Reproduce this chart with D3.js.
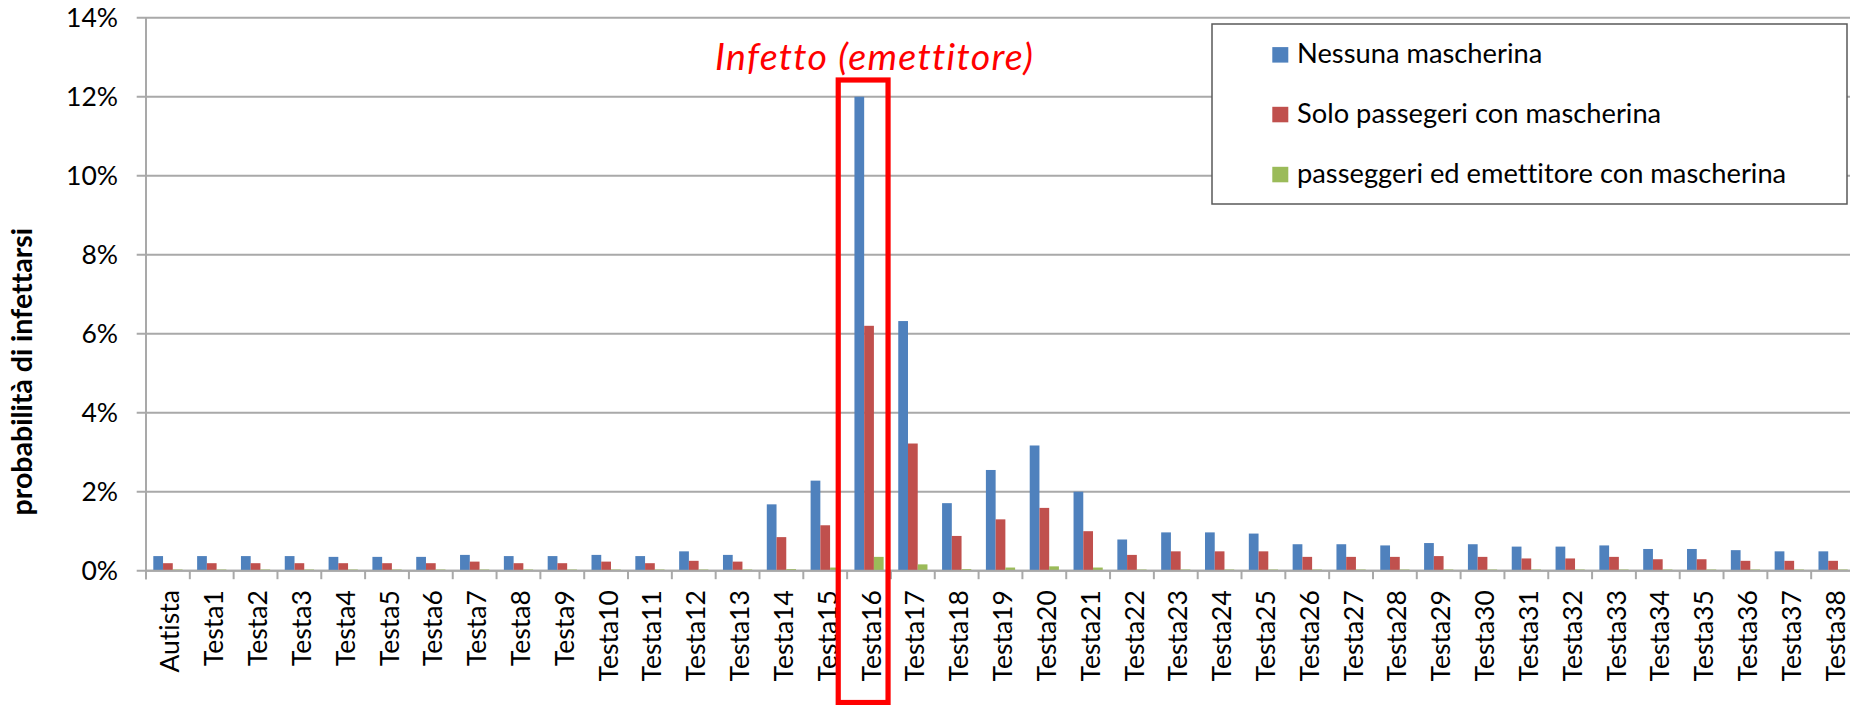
<!DOCTYPE html>
<html>
<head>
<meta charset="utf-8">
<script src="https://cdn.jsdelivr.net/npm/d3@7"></script>
<style>
  html, body { margin: 0; padding: 0; background: #ffffff; }
  svg { display: block; font-family: Lato, "Noto Sans", sans-serif; font-variant-ligatures: none; font-feature-settings: "liga" 0, "clig" 0; }
</style>
</head>
<body>
<svg id="chart" width="1850" height="705"></svg>
<script>
// ---------- DATA ----------
const categories = ["Autista", "Testa1", "Testa2", "Testa3", "Testa4", "Testa5", "Testa6", "Testa7", "Testa8", "Testa9",
  "Testa10", "Testa11", "Testa12", "Testa13", "Testa14", "Testa15", "Testa16", "Testa17", "Testa18", "Testa19",
  "Testa20", "Testa21", "Testa22", "Testa23", "Testa24", "Testa25", "Testa26", "Testa27", "Testa28", "Testa29",
  "Testa30", "Testa31", "Testa32", "Testa33", "Testa34", "Testa35", "Testa36", "Testa37", "Testa38"];

const seriesNames = ["Nessuna mascherina", "Solo passegeri con mascherina", "passeggeri ed emettitore con mascherina"];

// values in percent
const nessunaMascherina = [0.37, 0.37, 0.37, 0.37, 0.35, 0.35, 0.35, 0.40, 0.37, 0.37,
  0.40, 0.37, 0.49, 0.40, 1.68, 2.28, 12.0, 6.32, 1.71, 2.55,
  3.17, 2.00, 0.79, 0.97, 0.97, 0.94, 0.67, 0.67, 0.64, 0.70,
  0.67, 0.61, 0.61, 0.64, 0.55, 0.55, 0.52, 0.49, 0.49];

const soloPasseggeri = [0.19, 0.19, 0.19, 0.19, 0.19, 0.19, 0.19, 0.23, 0.19, 0.19,
  0.23, 0.19, 0.25, 0.23, 0.85, 1.15, 6.20, 3.22, 0.88, 1.30,
  1.59, 1.00, 0.40, 0.49, 0.49, 0.49, 0.35, 0.35, 0.35, 0.37,
  0.35, 0.31, 0.31, 0.35, 0.29, 0.29, 0.25, 0.25, 0.25];

const passeggeriEdEmettitore = [0.03, 0.03, 0.03, 0.03, 0.03, 0.03, 0.03, 0.03, 0.03, 0.03,
  0.03, 0.03, 0.03, 0.03, 0.04, 0.08, 0.35, 0.16, 0.04, 0.08,
  0.11, 0.08, 0.03, 0.03, 0.03, 0.03, 0.03, 0.03, 0.03, 0.03,
  0.03, 0.03, 0.03, 0.03, 0.03, 0.03, 0.03, 0.03, 0.03];

const seriesColors = ["#4F81BD", "#C0504D", "#9BBB59"];
const yTicks = [0, 2, 4, 6, 8, 10, 12, 14];
const yAxisTitle = "probabilità di infettarsi";
const annotationText = "Infetto (emettitore)";
const annotationCategory = "Testa16";

// ---------- LAYOUT ----------
const svg = d3.select("#chart");
const plotLeft = 146, plotRight = 1855, plotTop = 17.7, plotBottom = 570.7;
const FS = 26.5;
const LFS = 27.3;

const x0 = d3.scaleBand().domain(categories).range([plotLeft, plotRight]).paddingInner(0).paddingOuter(0);
const x1 = d3.scaleBand().domain(d3.range(seriesNames.length)).range([0, x0.bandwidth()]).paddingInner(0).paddingOuter(0.75);
const y = d3.scaleLinear().domain([0, 14]).range([plotBottom, plotTop]);

const seriesData = [nessunaMascherina, soloPasseggeri, passeggeriEdEmettitore];

// gridlines
const gridG = svg.append("g");
gridG.selectAll("line").data(yTicks).join("line")
  .attr("x1", plotLeft - 9.3).attr("x2", 1850)
  .attr("y1", d => y(d)).attr("y2", d => y(d))
  .attr("stroke", "#a9a9a9").attr("stroke-width", 2);

// y axis via d3
const yAxis = d3.axisLeft(y).tickValues(yTicks).tickFormat(d => d + "%").tickSize(0).tickPadding(28);
const yG = svg.append("g").attr("transform", `translate(${plotLeft},0)`).call(yAxis);
yG.select(".domain").remove();
yG.selectAll("text").attr("font-size", FS).attr("fill", "#000").attr("font-family", "Lato");

// vertical axis line
svg.append("line").attr("x1", plotLeft).attr("x2", plotLeft)
  .attr("y1", plotTop).attr("y2", plotBottom + 8.5)
  .attr("stroke", "#a9a9a9").attr("stroke-width", 2);

// x axis ticks at band boundaries
const boundaries = categories.map(c => x0(c)).concat([plotRight]);
svg.append("g").selectAll("line").data(boundaries).join("line")
  .attr("x1", d => d).attr("x2", d => d)
  .attr("y1", plotBottom).attr("y2", plotBottom + 8.5)
  .attr("stroke", "#a9a9a9").attr("stroke-width", 2);

// bars
const barsG = svg.append("g");
seriesData.forEach((vals, si) => {
  barsG.append("g").selectAll("rect").data(vals).join("rect")
    .attr("x", (d, i) => x0(categories[i]) + x1(si))
    .attr("width", x1.bandwidth())
    .attr("y", d => y(d))
    .attr("height", d => y(0) - y(d))
    .attr("fill", seriesColors[si]);
});

// x axis baseline
svg.append("line").attr("x1", plotLeft).attr("x2", 1850)
  .attr("y1", plotBottom).attr("y2", plotBottom)
  .attr("stroke", "#a9a9a9").attr("stroke-width", 2);

// x labels (rotated)
svg.append("g").selectAll("text").data(categories).join("text")
  .attr("transform", d => `translate(${x0(d) + x0.bandwidth() / 2 + 2},${plotBottom + 19.5}) rotate(-90)`)
  .attr("text-anchor", "end")
  .attr("dy", "0.36em")
  .attr("font-size", FS)
  .attr("fill", "#000")
  .text(d => d);

// y axis title
svg.append("text")
  .attr("transform", `translate(32,${371.7}) rotate(-90)`)
  .attr("text-anchor", "middle")
  .attr("font-size", 28.5)
  .attr("font-weight", "bold")
  .attr("fill", "#000")
  .text(yAxisTitle);

// annotation box
const ax = x0(annotationCategory);
svg.append("rect")
  .attr("x", ax - 8.9)
  .attr("y", 80)
  .attr("width", x0.bandwidth() + 8.9 - 2.9)
  .attr("height", 622.5)
  .attr("fill", "none")
  .attr("stroke", "#ff0000")
  .attr("stroke-width", 5.2);

svg.append("text")
  .attr("x", ax + x0.bandwidth() / 2 + 5)
  .attr("y", 70)
  .attr("text-anchor", "middle")
  .attr("font-size", 37.5)
  .attr("font-style", "italic")
  .attr("textLength", 318)
  .attr("lengthAdjust", "spacing")
  .attr("fill", "#ff0000")
  .text(annotationText);

// legend
const lg = svg.append("g");
lg.append("rect").attr("x", 1212).attr("y", 24).attr("width", 635).attr("height", 180)
  .attr("fill", "#fff").attr("stroke", "#595959").attr("stroke-width", 1.5);
const legendRowY = [63.3, 123, 183];
seriesNames.forEach((name, i) => {
  lg.append("rect").attr("x", 1272.3).attr("y", legendRowY[i] - 16.2).attr("width", 16).attr("height", 15.5)
    .attr("fill", seriesColors[i]);
  lg.append("text").attr("x", 1297).attr("y", legendRowY[i])
    .attr("font-size", LFS).attr("fill", "#000").text(name);
});
</script>
</body>
</html>
